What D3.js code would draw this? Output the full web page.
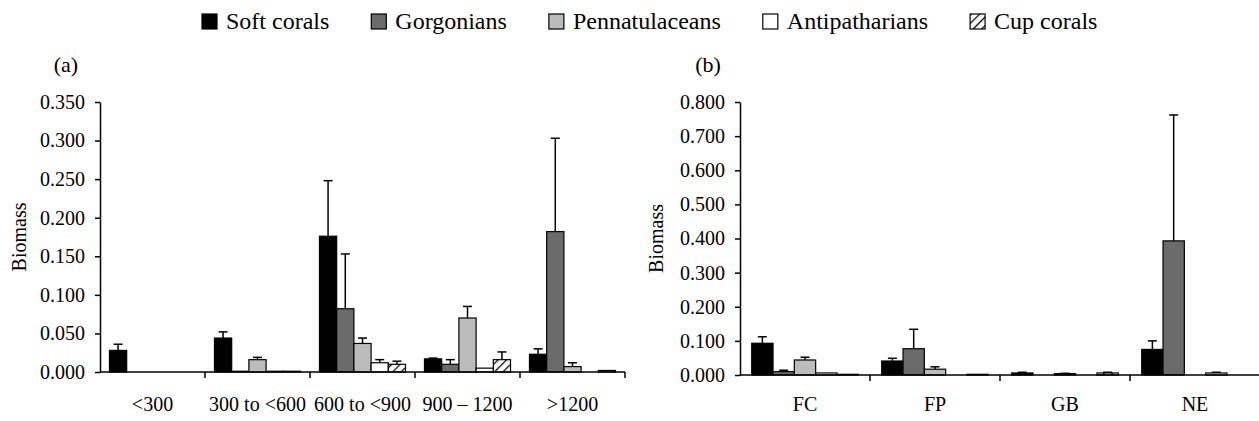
<!DOCTYPE html>
<meta charset="utf-8">
<head>
<script src="https://d3js.org/d3.v7.min.js"></script>
<style>
  body { margin: 0; background: #fff; }
  svg text { font-family: "Liberation Serif", "Times New Roman", Times, serif; fill: #000; }
  .axis text { font-size: 20px; }
  .axis path, .axis line { stroke: #000; stroke-width: 1.5px; }
</style>
</head>
<body>
<svg id="chart"></svg>
<script>
// series (same order in both panels)
var seriesNames = ["Soft corals", "Gorgonians", "Pennatulaceans", "Antipatharians", "Cup corals"];

// panel (a): depth bands
var depthCats = ["<300", "300 to <600", "600 to <900", "900 \u2013 1200", ">1200"];
var depthSoft  = [0.028, 0.044, 0.176, 0.017, 0.023];
var depthGorg  = [0.000, 0.001, 0.082, 0.010, 0.182];
var depthPenn  = [0.000, 0.016, 0.037, 0.070, 0.007];
var depthAnti  = [0.000, 0.001, 0.012, 0.005, 0.000];
var depthCup   = [0.000, 0.001, 0.010, 0.016, 0.002];
// standard errors (a)
var depthSoftErr = [0.008, 0.008, 0.072, 0.001, 0.007];
var depthGorgErr = [0.000, 0.000, 0.071, 0.006, 0.121];
var depthPennErr = [0.000, 0.003, 0.007, 0.015, 0.005];
var depthAntiErr = [0.000, 0.000, 0.004, 0.000, 0.000];
var depthCupErr  = [0.000, 0.000, 0.004, 0.010, 0.000];
var depthTicks = [0, 0.05, 0.1, 0.15, 0.2, 0.25, 0.3, 0.35];

// panel (b): regions
var regionCats = ["FC", "FP", "GB", "NE"];
var regionSoft = [0.093, 0.041, 0.006, 0.075];
var regionGorg = [0.010, 0.077, 0.000, 0.393];
var regionPenn = [0.044, 0.017, 0.004, 0.000];
var regionAnti = [0.006, 0.000, 0.000, 0.006];
var regionCup  = [0.002, 0.002, 0.006, 0.000];
// standard errors (b)
var regionSoftErr = [0.019, 0.008, 0.002, 0.025];
var regionGorgErr = [0.004, 0.057, 0.000, 0.369];
var regionPennErr = [0.008, 0.007, 0.001, 0.000];
var regionAntiErr = [0.000, 0.000, 0.000, 0.002];
var regionCupErr  = [0.000, 0.000, 0.002, 0.000];
var regionTicks = [0, 0.1, 0.2, 0.3, 0.4, 0.5, 0.6, 0.7, 0.8];

var fills = ["#000000", "#6b6b6b", "#bcbcbc", "#ffffff", "url(#hatch)"];

var W = 1259, H = 421;
var svg = d3.select("#chart").attr("width", W).attr("height", H);

// hatch pattern for cup corals
var pat = svg.append("defs").append("pattern")
    .attr("id", "hatch")
    .attr("patternUnits", "userSpaceOnUse")
    .attr("width", 6).attr("height", 6)
    .attr("patternTransform", "rotate(45)");
pat.append("rect").attr("width", 6).attr("height", 6).attr("fill", "#fff");
pat.append("line").attr("x1", 0).attr("y1", 0).attr("x2", 0).attr("y2", 6)
    .attr("stroke", "#000").attr("stroke-width", 2.5);

function drawPanel(cfg) {
    var x0 = d3.scaleBand().domain(cfg.cats).range([cfg.left, cfg.right]).padding(0);
    var x1 = d3.scaleBand().domain(seriesNames).range([0, x0.bandwidth()])
        .paddingInner(0).paddingOuter(0.55);
    var y = d3.scaleLinear().domain([0, cfg.max]).range([cfg.bottom, cfg.top]);

    var g = svg.append("g");

    // bars
    cfg.series.forEach(function(vals, si) {
        var errs = cfg.errs[si];
        var bars = g.append("g").selectAll("g")
            .data(cfg.cats.map(function(c, i) { return {cat: c, v: vals[i], e: errs[i]}; }))
            .join("g");

        bars.filter(function(d) { return d.e > 0; }).each(function(d) {
            var cx = x0(d.cat) + x1(seriesNames[si]) + x1.bandwidth() / 2;
            var sel = d3.select(this);
            sel.append("line")
                .attr("x1", cx).attr("x2", cx)
                .attr("y1", y(d.v)).attr("y2", y(d.v + d.e))
                .attr("stroke", "#000").attr("stroke-width", 1.5);
            sel.append("line")
                .attr("x1", cx - 4.5).attr("x2", cx + 4.5)
                .attr("y1", y(d.v + d.e)).attr("y2", y(d.v + d.e))
                .attr("stroke", "#000").attr("stroke-width", 1.5);
        });

        bars.filter(function(d) { return d.v > 0; }).append("rect")
            .attr("x", function(d) { return x0(d.cat) + x1(seriesNames[si]); })
            .attr("width", x1.bandwidth())
            .attr("y", function(d) { return y(d.v); })
            .attr("height", function(d) { return y(0) - y(d.v); })
            .attr("fill", fills[si])
            .attr("stroke", "#000").attr("stroke-width", 1.2);
    });

    // x axis: labels centred, ticks on category boundaries
    var xAxis = g.append("g").attr("class", "axis")
        .attr("transform", "translate(0," + cfg.bottom + ")")
        .call(d3.axisBottom(x0).tickSize(0).tickSizeOuter(0).tickPadding(cfg.labelPad));
    xAxis.select(".domain").attr("d", "M" + cfg.left + ",0H" + cfg.right);
    xAxis.selectAll(".sep")
        .data(cfg.cats)
        .join("line")
        .attr("class", "sep")
        .attr("x1", function(d) { return x0(d) + x0.bandwidth(); })
        .attr("x2", function(d) { return x0(d) + x0.bandwidth(); })
        .attr("y1", 0).attr("y2", 6);

    // y axis
    g.append("g").attr("class", "axis")
        .attr("transform", "translate(" + cfg.left + ",0)")
        .call(d3.axisLeft(y).tickValues(cfg.ticks).tickFormat(d3.format(".3f"))
            .tickSize(5).tickSizeOuter(0).tickPadding(10));

    g.append("text")
        .attr("transform", "translate(" + cfg.ylabX + "," + ((cfg.top + cfg.bottom) / 2) + ") rotate(-90)")
        .attr("text-anchor", "middle")
        .attr("dy", "0.35em")
        .style("font-size", "20px")
        .text("Biomass");

    g.append("text")
        .attr("x", cfg.tagX).attr("y", 72)
        .attr("text-anchor", "middle")
        .style("font-size", "22px")
        .text(cfg.tag);
}

drawPanel({
    cats: depthCats,
    series: [depthSoft, depthGorg, depthPenn, depthAnti, depthCup],
    errs: [depthSoftErr, depthGorgErr, depthPennErr, depthAntiErr, depthCupErr],
    ticks: depthTicks, max: 0.35,
    left: 100, right: 625, top: 102, bottom: 372,
    labelPad: 25, ylabX: 19, tagX: 66, tag: "(a)"
});

drawPanel({
    cats: regionCats,
    series: [regionSoft, regionGorg, regionPenn, regionAnti, regionCup],
    errs: [regionSoftErr, regionGorgErr, regionPennErr, regionAntiErr, regionCupErr],
    ticks: regionTicks, max: 0.8,
    left: 740, right: 1260, top: 102, bottom: 375,
    labelPad: 22, ylabX: 656, tagX: 708, tag: "(b)"
});

// legend across the top
var legend = svg.append("g");
var lx = 202;
seriesNames.forEach(function(name, i) {
    legend.append("rect")
        .attr("x", lx).attr("y", 14).attr("width", 15).attr("height", 15)
        .attr("fill", fills[i]).attr("stroke", "#000").attr("stroke-width", 1.2);
    var t = legend.append("text")
        .attr("x", lx + 24).attr("y", 29)
        .style("font-size", "24px")
        .text(name);
    lx += 24 + t.node().getComputedTextLength() + 42;
});
</script>
</body>
